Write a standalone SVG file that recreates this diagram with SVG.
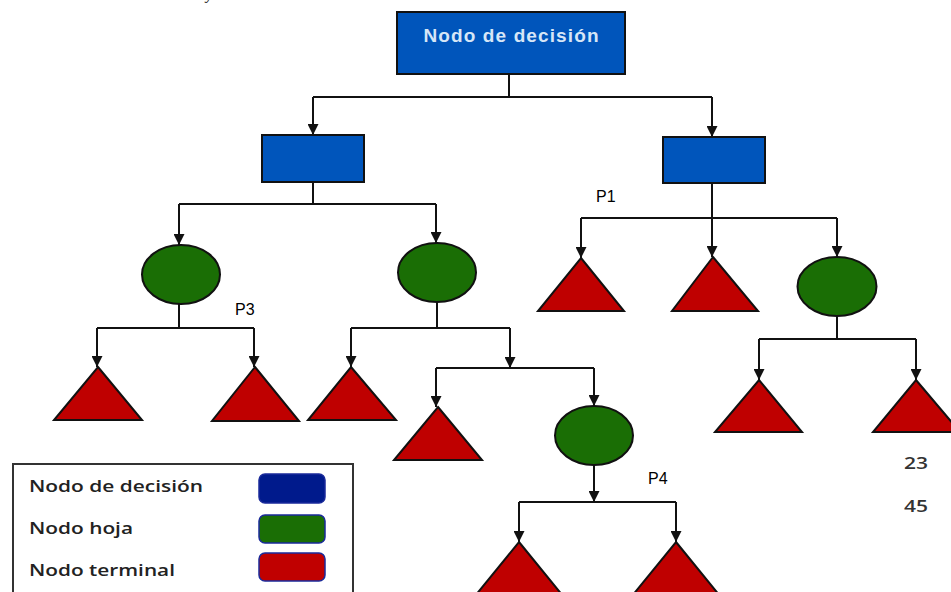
<svg xmlns="http://www.w3.org/2000/svg" width="951" height="592" viewBox="0 0 951 592">
<style>
.dec{fill:#0055bb;stroke:#111;stroke-width:2}
.leaf{fill:#1a6e05;stroke:#111;stroke-width:2}
.term{fill:#bf0000;stroke:#111;stroke-width:2;stroke-linejoin:miter}
.ln{fill:none;stroke:#111;stroke-width:2}
.ar{fill:none;stroke:#111;stroke-width:2;marker-end:url(#arr)}
.lbl{font-family:"Liberation Sans",Arial,sans-serif;font-size:16px;fill:#000}
.num{font-family:"Open Sans","Liberation Sans",sans-serif;font-size:16px;font-weight:600;fill:#333}
.leg{font-family:"Open Sans","Liberation Sans",sans-serif;font-size:17px;font-weight:600;fill:#222}
</style>
<defs>
<marker id="arr" markerUnits="userSpaceOnUse" markerWidth="11" markerHeight="11" refX="10" refY="5" orient="auto" viewBox="0 0 10 10">
<path d="M0,0 L10,5 L0,10 z" fill="#111"/>
</marker>
</defs>
<rect width="951" height="592" fill="#fff"/>
<text x="206" y="-1" font-family="Liberation Serif,serif" font-style="italic" font-size="16" fill="#222">y</text>

<g id="connectors">
<path class="ln" d="M509,74 V97 M313,97 H712"/>
<path class="ln" d="M313,182 V204 M179,204 H436"/>
<path class="ln" d="M179,304 V328 M97,328 H254"/>
<path class="ln" d="M437,302 V328 M351,328 H510"/>
<path class="ln" d="M436,368 H594"/>
<path class="ln" d="M519,502 H676"/>
<path class="ln" d="M581,218 H837"/>
<path class="ln" d="M837,316 V339 M759,339 H916"/>
<path class="ar" d="M313,97 V135"/>
<path class="ar" d="M712,97 V137"/>
<path class="ar" d="M179,204 V245"/>
<path class="ar" d="M436,204 V243"/>
<path class="ar" d="M97,328 V367"/>
<path class="ar" d="M254,328 V367"/>
<path class="ar" d="M351,328 V367"/>
<path class="ar" d="M510,328 V368"/>
<path class="ar" d="M436,368 V407"/>
<path class="ar" d="M594,368 V406"/>
<path class="ar" d="M594,465 V502"/>
<path class="ar" d="M519,502 V542"/>
<path class="ar" d="M676,502 V542"/>
<path class="ar" d="M581,218 V258"/>
<path class="ar" d="M712,183 V257"/>
<path class="ar" d="M837,218 V257"/>
<path class="ar" d="M759,339 V380"/>
<path class="ar" d="M916,339 V380"/>
</g>

<g id="root">
<rect class="dec" x="397" y="12" width="228" height="62"/>
<text x="511" y="42" text-anchor="middle" font-family="Liberation Sans,Arial,sans-serif" font-size="19" font-weight="bold" fill="#d6e6f7" textLength="175" lengthAdjust="spacing">Nodo de decisión</text>
</g>
<g id="dec-left"><rect class="dec" x="262" y="135" width="102" height="47"/></g>
<g id="dec-right"><rect class="dec" x="663" y="137" width="102" height="46"/></g>

<g id="leaf-l1"><ellipse class="leaf" cx="181" cy="274.5" rx="39" ry="29.5"/></g>
<g id="leaf-l2"><ellipse class="leaf" cx="437" cy="272.5" rx="39" ry="29.5"/></g>
<g id="leaf-l3"><ellipse class="leaf" cx="594" cy="435.5" rx="39" ry="29.5"/></g>
<g id="leaf-r1"><ellipse class="leaf" cx="837" cy="286.5" rx="39.5" ry="29.5"/></g>

<g id="term-1"><polygon class="term" points="98,367 142,420 54,420"/></g>
<g id="term-2"><polygon class="term" points="255,367 299,421 212,421"/></g>
<g id="term-3"><polygon class="term" points="351,367 396,420 308,420"/></g>
<g id="term-4"><polygon class="term" points="438,407 482,460 394,460"/></g>
<g id="term-5"><polygon class="term" points="519,542 563,596 475,596"/></g>
<g id="term-6"><polygon class="term" points="676,542 720,596 632,596"/></g>
<g id="term-7"><polygon class="term" points="581,258 624,311 538,311"/></g>
<g id="term-8"><polygon class="term" points="713,257 758,311 672,311"/></g>
<g id="term-9"><polygon class="term" points="759,380 802,432 715,432"/></g>
<g id="term-10"><polygon class="term" points="916,380 960,432 873,432"/></g>

<g id="labels">
<text class="lbl" x="596" y="202">P1</text>
<text class="lbl" x="235" y="315">P3</text>
<text class="lbl" x="648" y="484">P4</text>
<text class="num" x="904" y="469" textLength="24" lengthAdjust="spacingAndGlyphs">23</text>
<text class="num" x="904" y="512" textLength="24" lengthAdjust="spacingAndGlyphs">45</text>
</g>

<g id="legend">
<rect x="13" y="464" width="340" height="140" fill="#fff" stroke="#333" stroke-width="2"/>
<text class="leg" x="29" y="492" textLength="174" lengthAdjust="spacingAndGlyphs">Nodo de decisión</text>
<text class="leg" x="29" y="534" textLength="104" lengthAdjust="spacingAndGlyphs">Nodo hoja</text>
<text class="leg" x="29" y="576" textLength="146" lengthAdjust="spacingAndGlyphs">Nodo terminal</text>
<rect x="259" y="474" width="66" height="29" rx="6" fill="#001a8c" stroke="#1a2a9a" stroke-width="1.5"/>
<rect x="259" y="515" width="66" height="28" rx="6" fill="#1a6e05" stroke="#1a2a9a" stroke-width="1.5"/>
<rect x="259" y="553" width="66" height="28" rx="6" fill="#c00000" stroke="#1a2a9a" stroke-width="1.5"/>
</g>
</svg>
